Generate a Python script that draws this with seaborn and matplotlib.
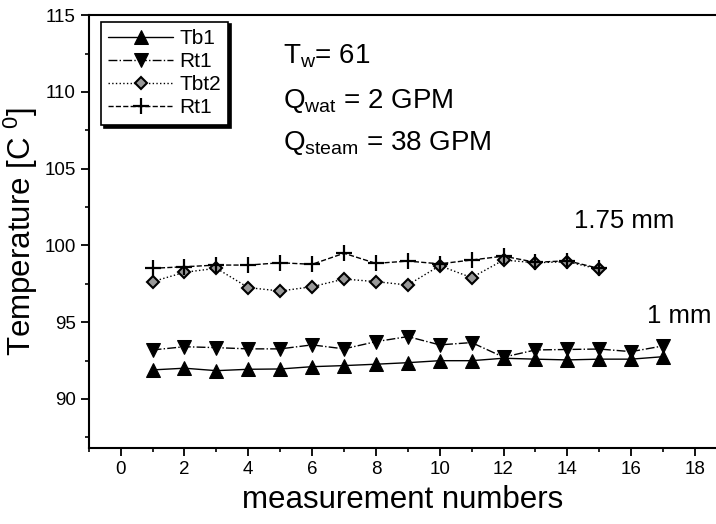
import numpy as np
import pandas as pd
import matplotlib
matplotlib.use("Agg")
import matplotlib.pyplot as plt
from matplotlib.ticker import MultipleLocator
import seaborn as sns

# values
meas_low = list(range(1, 18))
tb1 = [91.89, 92.0, 91.84, 91.93, 91.95, 92.1, 92.17, 92.26, 92.36,
       92.49, 92.49, 92.65, 92.59, 92.54, 92.59, 92.59, 92.75]
rt1 = [93.19, 93.4, 93.34, 93.26, 93.26, 93.52, 93.26, 93.73, 94.06,
       93.52, 93.67, 92.72, 93.19, 93.22, 93.25, 93.08, 93.45]

meas_high = list(range(1, 16))
tbt2 = [97.64, 98.25, 98.51, 97.25, 97.03, 97.31, 97.81, 97.64, 97.42,
        98.68, 97.9, 99.05, 98.87, 98.94, 98.45]
rt1_plus = [98.51, 98.61, 98.72, 98.72, 98.87, 98.77, 99.49, 98.83, 98.98,
            98.8, 99.05, 99.3, 98.9, 99.0, 98.5]

sns.set_style("ticks")
plt.rcParams["font.family"] = ["Liberation Sans", "DejaVu Sans"]
plt.rcParams["mathtext.fontset"] = "custom"
plt.rcParams["mathtext.rm"] = "Liberation Sans"
plt.rcParams["mathtext.it"] = "Liberation Sans"
plt.rcParams["text.color"] = "black"
plt.rcParams["axes.labelcolor"] = "black"
plt.rcParams["xtick.color"] = "black"
plt.rcParams["ytick.color"] = "black"

fig = plt.figure(figsize=(7.16, 5.24), dpi=100)
ax = fig.add_axes([0.124, 0.145, 0.876, 0.826])

sns.lineplot(x=meas_low, y=tb1, ax=ax, color="black", linestyle="-", lw=1,
             marker="^", markersize=10, markeredgecolor="black", label="Tb1")
sns.lineplot(x=meas_low, y=rt1, ax=ax, color="black", linestyle="-.", lw=1,
             marker="v", markersize=10, markeredgecolor="black", label="Rt1")
sns.lineplot(x=meas_high, y=tbt2, ax=ax, color="black", linestyle=":", lw=1,
             marker="D", markersize=6, markerfacecolor="#999999",
             markeredgecolor="black", markeredgewidth=1.5, label="Tbt2")
sns.lineplot(x=meas_high, y=rt1_plus, ax=ax, color="black", linestyle="--",
             lw=1, dashes=(7, 1.5), marker="+", markersize=11,
             markeredgewidth=1.6, markeredgecolor="black", label="Rt1")

ax.set_xlim(-1, 18.66)
ax.set_ylim(86.8, 115)
ax.xaxis.set_major_locator(MultipleLocator(2))
ax.xaxis.set_minor_locator(MultipleLocator(1))
ax.yaxis.set_major_locator(MultipleLocator(5))
ax.yaxis.set_minor_locator(MultipleLocator(2.5))
ax.set_yticks([90, 95, 100, 105, 110, 115])
ax.tick_params(which="major", direction="out", length=6, width=1.3, labelsize=13.5)
ax.tick_params(which="minor", direction="out", length=3, width=1.2)

for side in ["left", "bottom", "top"]:
    ax.spines[side].set_linewidth(1.5)
    ax.spines[side].set_color("black")
ax.spines["right"].set_visible(False)

ax.set_xlabel("measurement numbers", fontsize=22.5, labelpad=5)
ax.set_ylabel("Temperature [C $^{0}$]", fontsize=22.5, labelpad=3)

ax.text(5.1, 112.3, r"T$_{\rm w}$= 61", fontsize=20, va="center")
ax.text(5.1, 109.4, r"Q$_{\rm wat}$ = 2 GPM", fontsize=20, va="center")
ax.text(5.1, 106.7, r"Q$_{\rm steam}$ = 38 GPM", fontsize=20, va="center")
ax.text(14.2, 101.6, "1.75 mm", fontsize=18.5, va="center")
ax.text(16.5, 95.4, "1 mm", fontsize=18.5, va="center")

leg = ax.legend(loc="upper left", bbox_to_anchor=(0.0195, 0.985), fontsize=15,
                frameon=True, fancybox=False, edgecolor="black", framealpha=1,
                handlelength=3.1, handletextpad=0.3, labelspacing=0.2,
                borderpad=0.35, borderaxespad=0,
                shadow={"color": "black", "alpha": 1})
leg.get_frame().set_linewidth(1.2)

fig.savefig("out.png", dpi=100)
